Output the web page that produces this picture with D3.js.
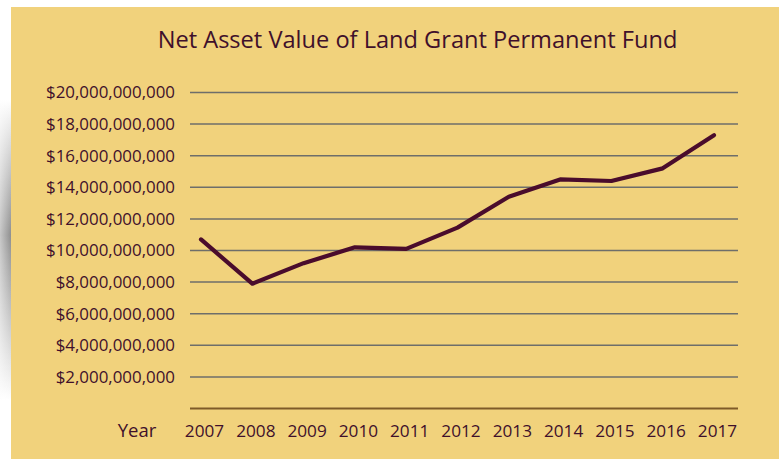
<!DOCTYPE html>
<html><head><meta charset="utf-8">
<script src="https://cdn.jsdelivr.net/npm/d3@7"></script>
<style>html,body{margin:0;padding:0;background:#fff;}svg{display:block;}</style>
</head><body>
<svg id="c" width="784" height="460"></svg>
<script>
const years = ["2007","2008","2009","2010","2011","2012","2013","2014","2015","2016","2017"];
const netAssetValue = [10.7e9, 7.9e9, 9.2e9, 10.2e9, 10.1e9, 11.45e9, 13.4e9, 14.5e9, 14.4e9, 15.2e9, 17.3e9];
const yTicks = [2e9, 4e9, 6e9, 8e9, 10e9, 12e9, 14e9, 16e9, 18e9, 20e9];
const title = "Net Asset Value of Land Grant Permanent Fund";
const xTitle = "Year";

const svg = d3.select("#c");
const font = "'Open Sans', sans-serif";
const textColor = "#3f102b";

// left shadow decoration
const defs = svg.append("defs");
const g1 = defs.append("linearGradient").attr("id","sh").attr("x1",0).attr("x2",0).attr("y1",0).attr("y2",1);
g1.append("stop").attr("offset","0%").attr("stop-color","#fff");
g1.append("stop").attr("offset","45%").attr("stop-color","#8f8f8f");
g1.append("stop").attr("offset","100%").attr("stop-color","#fff");
const g2 = defs.append("linearGradient").attr("id","shx").attr("x1",0).attr("x2",1).attr("y1",0).attr("y2",0);
g2.append("stop").attr("offset","0%").attr("stop-color","#fff").attr("stop-opacity",0.5);
g2.append("stop").attr("offset","100%").attr("stop-color","#fff").attr("stop-opacity",0);
svg.append("rect").attr("x",0).attr("y",100).attr("width",11).attr("height",300).attr("fill","url(#sh)");
svg.append("rect").attr("x",0).attr("y",100).attr("width",11).attr("height",300).attr("fill","url(#shx)");

// background
svg.append("rect").attr("x",11).attr("y",7).attr("width",768).attr("height",452).attr("fill","#f1d27c");

const plotL = 190, plotR = 738;
const y = d3.scaleLinear().domain([0, 20e9]).range([408.5, 92.5]);
const x = d3.scalePoint().domain(years).range([201, 714]);

svg.append("text").attr("x",417.5).attr("y",48).attr("text-anchor","middle")
  .attr("font-family",font).attr("font-size",23.6).attr("fill",textColor).text(title);

// gridlines
svg.append("g").selectAll("line").data(yTicks).join("line")
  .attr("x1",plotL).attr("x2",plotR).attr("y1",d=>y(d)).attr("y2",d=>y(d))
  .attr("stroke","#6e6e6a").attr("stroke-width",1.5);

// y axis labels
const yAxis = d3.axisLeft(y).tickValues(yTicks).tickSize(0).tickPadding(0)
  .tickFormat(d => "$" + d3.format(",")(d));
const ya = svg.append("g").attr("transform",`translate(175,0)`).call(yAxis);
ya.select(".domain").remove();
ya.selectAll("text").attr("font-family",font).attr("font-size",16.9).attr("fill",textColor);

// x axis line
svg.append("line").attr("x1",plotL).attr("x2",plotR).attr("y1",y(0)).attr("y2",y(0))
  .attr("stroke","#7e5a28").attr("stroke-width",2);

const xAxis = d3.axisBottom(x).tickSize(0).tickPadding(0);
const xa = svg.append("g").attr("transform",`translate(3,437)`).call(xAxis);
xa.select(".domain").remove();
xa.selectAll("text").attr("font-family",font).attr("font-size",17.2).attr("fill",textColor).attr("dy","0");

svg.append("text").attr("x",137).attr("y",437).attr("text-anchor","middle")
  .attr("font-family",font).attr("font-size",18.5).attr("fill",textColor).text(xTitle);

// line
const line = d3.line().x((d,i)=>x(years[i])).y(d=>y(d));
svg.append("path").datum(netAssetValue).attr("d",line).attr("fill","none")
  .attr("stroke","#4a0c2c").attr("stroke-width",4.2).attr("stroke-linecap","round").attr("stroke-linejoin","round");
</script>
</body></html>
